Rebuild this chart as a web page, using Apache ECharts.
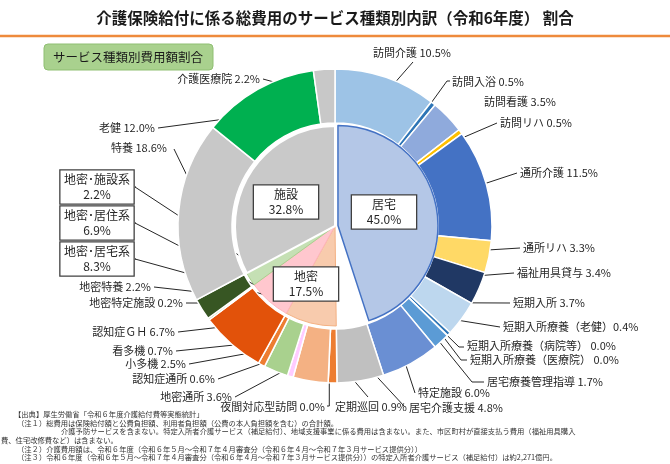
<!DOCTYPE html>
<html>
<head>
<meta charset="utf-8">
<script src="https://cdn.jsdelivr.net/npm/echarts@6/dist/echarts.min.js"></script>
<style>
  html, body { margin: 0; padding: 0; background: #fff; }
  #chart { width: 670px; height: 464px; }
</style>
</head>
<body>
<div id="chart"></div>
<script>
const titleText = '介護保険給付に係る総費用のサービス種類別内訳（令和6年度） 割合';
const boxTitle = 'サービス種類別費用額割合';

// outer ring: each service, clockwise from 12 o'clock
const serviceNames = [
  '訪問介護', '訪問入浴', '訪問看護', '訪問リハ', '通所介護', '通所リハ', '福祉用具貸与',
  '短期入所', '短期入所療養（老健）', '短期入所療養（病院等）', '短期入所療養（医療院）',
  '居宅療養管理指導', '特定施設', '居宅介護支援', '定期巡回', '夜間対応型訪問',
  '地密通所', '認知症通所', '小多機', '看多機', '認知症ＧＨ', '地密特定施設', '地密特養',
  '特養', '老健', '介護医療院'
];
const serviceValues = [
  10.5, 0.5, 3.5, 0.5, 11.5, 3.3, 3.4,
  3.7, 0.4, 0.0, 0.0,
  1.7, 6.0, 4.8, 0.9, 0.0,
  3.6, 0.6, 2.5, 0.7, 6.7, 0.2, 2.2,
  18.6, 12.0, 2.2
];

// inner ring: groups (the unnamed wedge is 居宅介護支援, left blank)
const groupNames = ['居宅', '', '地密･居宅系', '地密･居住系', '地密･施設系', '施設'];
const groupValues = [45.0, 4.8, 8.3, 6.9, 2.2, 32.8];
const chiikiName = '地密';
const chiikiTotal = 17.5;

const notes = [
  '【出典】厚生労働省「令和６年度介護給付費等実態統計」',
  '（注１）総費用は保険給付額と公費負担額、利用者負担額（公費の本人負担額を含む）の合計額。',
  '介護予防サービスを含まない。特定入所者介護サービス（補足給付）、地域支援事業に係る費用は含まない。また、市区町村が直接支払う費用（福祉用具購入',
  '費、住宅改修費など）は含まない。',
  '（注２）介護費用額は、令和６年度（令和６年５月～令和７年４月審査分（令和６年４月～令和７年３月サービス提供分））',
  '（注３）令和６年度（令和６年５月～令和７年４月審査分（令和６年４月～令和７年３月サービス提供分））の特定入所者介護サービス（補足給付）は約2,271億円。'
];

// ---- styles / layout ----
const FONT = '"Noto Sans CJK JP", "Noto Sans", sans-serif';
const TXT = '#262626';
const CX = 335, CY = 226;

const serviceColors = [
  '#9dc3e6', '#2e75b6', '#8faadc', '#ffc000', '#4472c4', '#ffd966', '#203864',
  '#bdd7ee', '#2e75b6', '#5b9bd5', '#5b9bd5',
  '#5b9bd5', '#6a8fd3', '#c0c0c0', '#ed7d31', '#ed7d31',
  '#f4b183', '#ffccff', '#a9d18e', '#ed7d31', '#e2520a', '#70ad47', '#375623',
  '#c8c8c8', '#00b050', '#c8c8c8'
];
const groupColors = ['#b4c7e7', '#ffffff', '#f8cbad', '#ffc7ce', '#c5e0b4', '#c9c9c9'];
const groupBorders = ['#4472c4', '#ffffff', '#f4b183', '#ffb5bd', '#a9d18e', '#ffffff'];

// label placement for the outer ring
const outerLabelPos = [
  { x: 373, y: 53, align: 'left', pts: [[413, 62]] },
  { x: 452, y: 82, align: 'left', r: 118, pts: [[447, 81], [450, 81]] },
  { x: 484, y: 102, align: 'left', noLine: true },
  { x: 500, y: 123, align: 'left' },
  { x: 520, y: 173, align: 'left' },
  { x: 523, y: 248, align: 'left' },
  { x: 517, y: 273, align: 'left' },
  { x: 513, y: 303, align: 'left' },
  { x: 503, y: 327, align: 'left', tight: true },
  { x: 467, y: 346, align: 'left', pts: [[459, 347], [464, 347]] },
  { x: 470, y: 360, align: 'left', pts: [[461, 360], [467, 360]] },
  { x: 487, y: 382, align: 'left', pts: [[472, 382], [484, 382]] },
  { x: 418, y: 393, align: 'left' },
  { x: 409, y: 408, align: 'left', pts: [[404, 406]] },
  { x: 335, y: 407, align: 'left', pts: [[368, 397]] },
  { x: 325, y: 407, align: 'right', vert: 406 },
  { x: 232, y: 397, align: 'right' },
  { x: 215, y: 379, align: 'right' },
  { x: 186, y: 364, align: 'right' },
  { x: 173, y: 351, align: 'right' },
  { x: 175, y: 332, align: 'right' },
  { x: 183, y: 303, align: 'right' },
  { x: 151, y: 287, align: 'right' },
  { x: 167, y: 148, align: 'right', pts: [[174, 149]] },
  { x: 155, y: 128, align: 'right' },
  { x: 260, y: 79, align: 'right' }
];
// inner ring: boxed labels (center ones drawn as graphics, side ones via the series)
const innerLabelPos = [
  { x: 384, y: 212, center: true },
  null,
  { x: 97, y: 259, lineX: 135, r: 85 },
  { x: 97, y: 223, lineX: 135, r: 92 },
  { x: 97, y: 187, lineX: 135, r: 85 },
  { x: 286, y: 202, center: true }
];
const chiikiPos = { x: 306, y: 284 };

function midAnchors(values, r, rs) {
  const total = values.reduce((a, b) => a + b, 0);
  let acc = 0;
  return values.map((v, i) => {
    const ang = (acc + v / 2) / total * Math.PI * 2;
    acc += v;
    const rr = (rs && rs[i] && rs[i].r) || r;
    return [CX + rr * Math.sin(ang), CY - rr * Math.cos(ang)];
  });
}
const outerAnchors = midAnchors(serviceValues, 130, outerLabelPos);
const innerAnchors = midAnchors(groupValues, 85, innerLabelPos);

const outerData = serviceNames.map((n, i) => ({
  name: n,
  value: serviceValues[i],
  itemStyle: { color: serviceColors[i] },
  labelLine: { show: !outerLabelPos[i].noLine }
}));

const boxStyle = {
  backgroundColor: '#fff', borderColor: '#404040', borderWidth: 1.3,
  fontSize: 12, lineHeight: 14.5, color: TXT, align: 'center'
};
const innerData = groupNames.map((n, i) => {
  const pos = innerLabelPos[i];
  const item = {
    name: n,
    value: groupValues[i],
    itemStyle: { color: groupColors[i], borderColor: groupBorders[i], borderWidth: i === 0 ? 1.5 : (i >= 2 && i <= 4 ? 1 : 2) }
  };
  if (!pos || pos.center) {
    item.label = { show: false };
    item.labelLine = { show: false };
  } else {
    item.label = Object.assign({}, boxStyle, { width: 69, padding: [2, 2] });
  }
  if (i === 0) item.selected = true;
  return item;
});

function boxText(text, x, y) {
  return {
    type: 'text', x: x, y: y, z: 20,
    style: {
      text: text, fill: TXT, font: '12px ' + FONT, align: 'center', verticalAlign: 'middle',
      lineHeight: 14.5, width: 58,
      backgroundColor: '#fff', borderColor: '#404040', borderWidth: 1.3, padding: [2, 3]
    }
  };
}
const centerBoxes = innerLabelPos
  .map((p, i) => (p && p.center) ? boxText(groupNames[i] + '\n' + groupValues[i].toFixed(1) + '%', p.x, p.y) : null)
  .filter(Boolean);
centerBoxes.push(boxText(chiikiName + '\n' + chiikiTotal.toFixed(1) + '%', chiikiPos.x, chiikiPos.y));

const chart = echarts.init(document.getElementById('chart'), null, { renderer: 'canvas' });

const footGraphics = [
  [14, 414], [17, 423], [61, 431], [1, 440], [17, 449], [17, 457]
].map((p, i) => ({
  type: 'text', x: p[0], y: p[1],
  style: { text: notes[i], fill: '#333', font: '7.3px ' + FONT, verticalAlign: 'middle' }
}));

chart.setOption({
  animation: false,
  backgroundColor: '#fff',
  series: [
    {
      type: 'pie',
      name: 'outer',
      center: [CX, CY],
      radius: [103, 157],
      startAngle: 90,
      clockwise: true,
      avoidLabelOverlap: false,
      silent: true,
      itemStyle: { borderColor: '#fff', borderWidth: 1.5 },
      label: {
        show: true,
        position: 'outside',
        fontFamily: FONT,
        fontSize: 11,
        color: TXT,
        formatter: (p) => p.name + (outerLabelPos[p.dataIndex].tight ? '' : ' ') + p.value.toFixed(1) + '%'
      },
      labelLine: { show: true, lineStyle: { color: TXT, width: 1 } },
      labelLayout: (params) => {
        const i = params.dataIndex;
        const p = outerLabelPos[i];
        const a = outerAnchors[i];
        const res = { x: p.x, y: p.y, align: p.align, verticalAlign: 'middle' };
        let pts;
        if (p.vert) {
          pts = [a, [a[0], p.vert], [p.x + 2, p.vert]];
        } else if (p.pts) {
          pts = [a].concat(p.pts);
        } else {
          const ex = p.align === 'left' ? p.x - 3 : p.x + 3;
          pts = [a, [ex, p.y]];
        }
        while (pts.length < 3) pts.push(pts[pts.length - 1]);
        res.labelLinePoints = pts;
        return res;
      },
      data: outerData
    },
    {
      type: 'pie',
      name: 'inner',
      center: [CX, CY],
      radius: [0, 100],
      startAngle: 90,
      clockwise: true,
      avoidLabelOverlap: false,
      selectedMode: 'single',
      selectedOffset: 3,
      silent: true,
      label: {
        show: true,
        position: 'outside',
        fontFamily: FONT,
        formatter: (p) => p.name + '\n' + p.value.toFixed(1) + '%'
      },
      labelLine: { show: true, lineStyle: { color: TXT, width: 1 } },
      labelLayout: (params) => {
        const i = params.dataIndex;
        const p = innerLabelPos[i];
        if (!p || p.center) return {};
        const a = innerAnchors[i];
        return {
          x: p.x, y: p.y, align: 'center', verticalAlign: 'middle',
          labelLinePoints: [a, [p.lineX, p.y], [p.lineX + 1, p.y]]
        };
      },
      data: innerData
    }
  ],
  graphic: [
    {
      type: 'text', x: CX, y: 18, z: 10,
      style: { text: titleText, fill: '#1a1a1a', font: 'bold 15.5px ' + FONT, align: 'center', verticalAlign: 'middle' }
    },
    {
      type: 'line', z: 10,
      shape: { x1: 0, y1: 36, x2: 670, y2: 36 },
      style: { stroke: '#ee8a3c', lineWidth: 2.5 }
    },
    {
      type: 'rect', z: 10,
      shape: { x: 44, y: 44, width: 169, height: 26, r: 4 },
      style: { fill: '#a9d18e', stroke: '#8fbf72', lineWidth: 1 }
    },
    {
      type: 'text', x: 128, y: 57, z: 11,
      style: { text: boxTitle, fill: '#1a1a1a', font: '12.5px ' + FONT, align: 'center', verticalAlign: 'middle' }
    }
  ].concat(centerBoxes, footGraphics)
});
</script>
</body>
</html>
